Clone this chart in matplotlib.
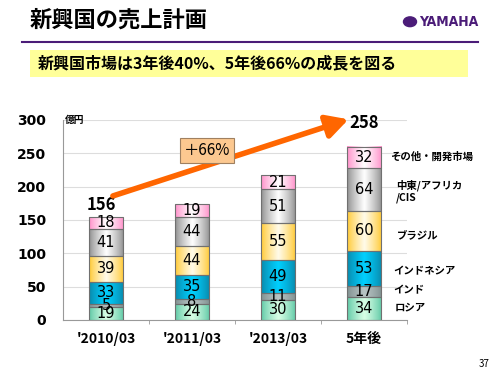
import numpy as np
import matplotlib.pyplot as plt
from matplotlib.colors import to_rgb
from matplotlib.patches import Rectangle

plt.rcParams['font.family'] = ['Noto Sans CJK JP', 'DejaVu Sans']

# データ (億円)
periods = ["'2010/03", "'2011/03", "'2013/03", "5年後"]
regions = ["ロシア", "インド", "インドネシア", "ブラジル", "中東/アフリカ\n/CIS", "その他・開発市場"]
russia = [19, 24, 30, 34]
india = [5, 8, 11, 17]
indonesia = [33, 35, 49, 53]
brazil = [39, 44, 55, 60]
mideast = [41, 44, 51, 64]
other = [18, 19, 21, 32]
series = [russia, india, indonesia, brazil, mideast, other]

# 端の色, 中央の色
grads = [("#5cc7a4", "#d8ffe6"),
         ("#7f8f8f", "#b8c4c4"),
         ("#0a86a8", "#00d0ff"),
         ("#ffc82e", "#fffbea"),
         ("#8c8c8c", "#ffffff"),
         ("#ff8cc8", "#ffffff")]

fig = plt.figure(figsize=(5, 3.75), dpi=100)

# タイトル
fig.text(0.06, 0.945, "新興国の売上計画", fontsize=16, fontweight='bold', va='center')
fig.text(0.838, 0.942, "YAMAHA", fontsize=10, fontweight='bold', color='#4b1c78',
         ha='left', va='center', family='DejaVu Sans', stretch='condensed')
fig.patches.append(plt.Circle((0.82, 0.942), 0.013, transform=fig.transFigure,
                              color='#4b1c78', figure=fig))
fig.add_artist(plt.Line2D([0.044, 0.956], [0.888, 0.888], color='#4b1c78', lw=1.5))
fig.patches.append(Rectangle((0.06, 0.795), 0.876, 0.072, transform=fig.transFigure,
                             facecolor='#ffff99', edgecolor='none', figure=fig))
fig.text(0.075, 0.831, "新興国市場は3年後40%、5年後66%の成長を図る", fontsize=11.5,
         fontweight='bold', va='center')
fig.text(0.98, 0.03, "37", fontsize=7, ha='right', va='center')

ax = fig.add_axes([0.126, 0.147, 0.688, 0.533])
x = np.arange(len(periods))
w = 0.4
t = np.linspace(0, 1, 64)
shape = (1 - np.abs(2 * t - 1)) ** 0.8

bottom = np.zeros(len(periods))
for vals, (edge, center) in zip(series, grads):
    e = np.array(to_rgb(edge))
    c = np.array(to_rgb(center))
    img = e[None, :] + (c - e)[None, :] * shape[:, None]
    for i, v in enumerate(vals):
        ax.imshow(img[None, :, :], extent=(x[i] - w / 2, x[i] + w / 2, bottom[i], bottom[i] + v),
                  aspect='auto', zorder=2, interpolation='bilinear')
        ax.add_patch(Rectangle((x[i] - w / 2, bottom[i]), w, v, fill=False,
                               edgecolor='#707070', lw=0.8, zorder=3))
        ax.text(x[i], bottom[i] + v / 2, str(v), ha='center', va='center',
                fontsize=10.5, zorder=4, family='DejaVu Sans')
    bottom += np.array(vals)

ax.text(-0.05, 172, "156", fontsize=12, fontweight='bold', ha='center', va='center')
ax.text(3.0, 296, "258", fontsize=12, fontweight='bold', ha='center', va='center')

ax.annotate("", xy=(2.82, 301), xytext=(0.08, 186), annotation_clip=False,
            arrowprops=dict(arrowstyle='-|>,head_length=1.3,head_width=0.7',
                            color='#ff6600', lw=4, shrinkA=0, shrinkB=0), zorder=5)
ax.text(1.17, 254, "＋66%", fontsize=11, ha='center', va='center', zorder=6,
        bbox=dict(boxstyle='square,pad=0.25', facecolor='#fcc890', edgecolor='#a08060', lw=0.8))

ax.set_xlim(-0.5, 3.5)
ax.set_ylim(0, 300)
ax.set_yticks(range(0, 301, 50))
ax.set_yticklabels([str(v) for v in range(0, 301, 50)], fontweight='bold', fontsize=10,
                   family='DejaVu Sans')
ax.tick_params(axis='y', length=0, pad=12)
ax.set_xticks(x)
ax.set_xticklabels(periods, fontweight='bold', fontsize=10)
ax.tick_params(axis='x', length=0, pad=9)
ax.set_xticks(np.arange(0.5, 4, 1), minor=True)
ax.tick_params(axis='x', which='minor', length=3, color='#999999', direction='out')
ax.grid(axis='y', color='#dddddd', lw=0.8, zorder=0)
ax.set_axisbelow(True)
for s in ['top', 'right']:
    ax.spines[s].set_visible(False)
for s in ['left', 'bottom']:
    ax.spines[s].set_color('#999999')
ax.text(-0.48, 300, "億円", fontsize=7, fontweight='bold', va='center')

# 凡例ラベル
label_pos = [(0.79, 0.18), (0.786, 0.227), (0.786, 0.277), (0.794, 0.373),
             (0.792, 0.490), (0.78, 0.581)]
for (fx, fy), name in zip(label_pos, regions):
    fig.text(fx, fy, name, fontsize=7.5, fontweight='bold', va='center', linespacing=1.3)

fig.savefig("out.png", dpi=100)
